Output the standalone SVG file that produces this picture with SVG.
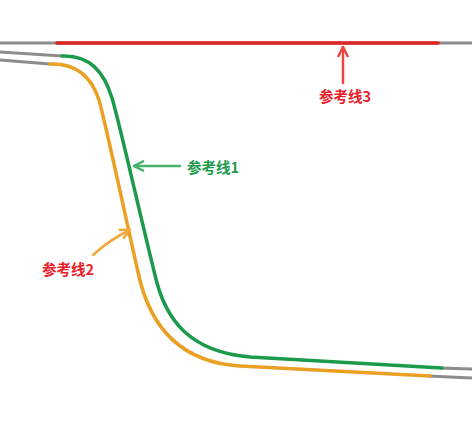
<svg xmlns="http://www.w3.org/2000/svg" width="472" height="425" viewBox="0 0 472 425">
<defs>
<style>
.gray{fill:none;stroke:#8c8c8c;stroke-width:3;stroke-linecap:butt}
.ref{fill:none;stroke-width:3.5;stroke-linecap:round;stroke-linejoin:round}
.arr{fill:none;stroke-width:2.5;stroke-linecap:round}
.lbl{font-family:"Noto Sans CJK SC","Noto Sans",sans-serif;font-weight:bold;font-size:14.5px}
</style>
<marker id="hr" viewBox="0 0 10 10" refX="9" refY="5" markerWidth="5" markerHeight="5" orient="auto" markerUnits="strokeWidth"><polyline points="1,1 9,5 1,9" fill="none" stroke="#ee4444" stroke-width="2"/></marker>
<marker id="hg" viewBox="0 0 10 10" refX="9" refY="5" markerWidth="5" markerHeight="5" orient="auto" markerUnits="strokeWidth"><polyline points="1,1 9,5 1,9" fill="none" stroke="#45b36b" stroke-width="2"/></marker>
<marker id="ho" viewBox="0 0 10 10" refX="9" refY="5" markerWidth="5" markerHeight="5" orient="auto" markerUnits="strokeWidth"><polyline points="1,1 9,5 1,9" fill="none" stroke="#f2a93b" stroke-width="2"/></marker>
</defs>
<g id="base-lines">
<path class="gray" d="M0,43 L472,43"/>
<path class="gray" d="M0,52 L62,56"/>
<path class="gray" d="M0,60 L50,64"/>
<path class="gray" d="M440,368 L472,369"/>
<path class="gray" d="M428,376 L472,378"/>
</g>
<g id="line3">
<path class="ref" stroke="#e02424" d="M57,43 L438,43"/>
</g>
<g id="line1">
<path class="ref" stroke="#1c9a4c" d="M62,56 C90,55 104,72 112,98 C120,125 140,215 155,275 C165,320 190,352 250,357 L442,368"/>
</g>
<g id="line2">
<path class="ref" stroke="#e9a023" d="M50,64 C78,63 92,78 99,100 C106,125 125,215 138,272 C148,320 175,362 240,366 L430,376"/>
</g>
<g id="connectors">
<path class="arr" stroke="#ee4444" marker-end="url(#hr)" d="M343,83 L343,47"/>
<path class="arr" stroke="#45b36b" marker-end="url(#hg)" d="M180,166 L134,166"/>
<path class="arr" stroke="#f2a93b" marker-end="url(#ho)" d="M93,255 C105,244 115,237 130,230"/>
</g>
<g id="label3"><text class="lbl" fill="#e8202a" x="319" y="102">参考线3</text></g>
<g id="label1"><text class="lbl" fill="#1c9a4c" x="187" y="173">参考线1</text></g>
<g id="label2"><text class="lbl" fill="#e8202a" x="42" y="275">参考线2</text></g>
</svg>
